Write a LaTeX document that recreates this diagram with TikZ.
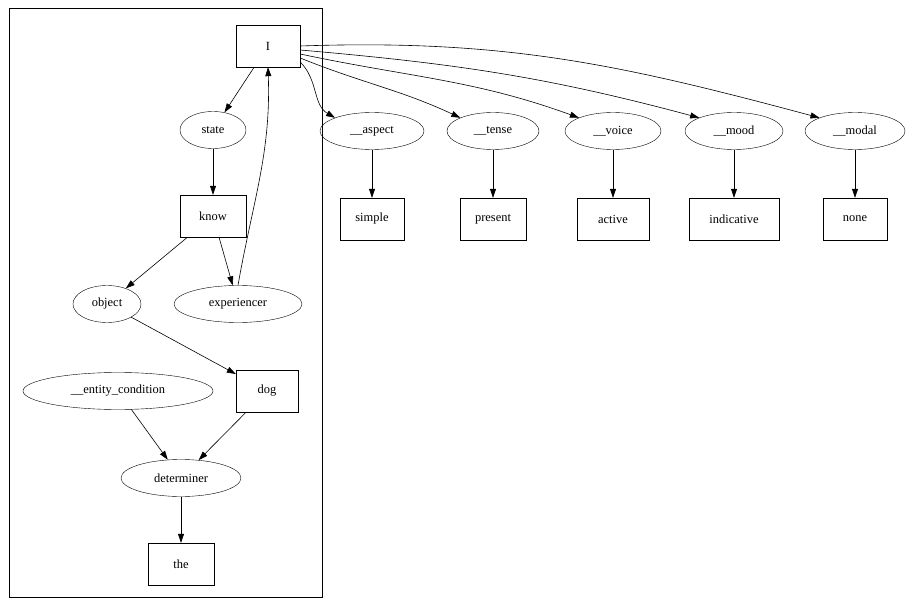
\documentclass[tikz,border=0pt]{standalone}
\usepackage{fontspec}
\setmainfont{Liberation Serif}
\usetikzlibrary{arrows.meta, shapes.geometric, positioning}

\begin{document}
\begin{tikzpicture}[x=1bp, y=-1bp,
  font=\fontsize{12.5}{14}\selectfont,
  box/.style={draw, rectangle, minimum height=42bp, inner sep=2bp},
  oval/.style={draw, ellipse, minimum height=37bp, inner sep=1bp},
  edge/.style={-{Triangle[length=9bp,width=6bp]}, line width=0.6bp}]
\useasboundingbox (0,0) rectangle (913,611);

% Cluster
\draw[line width=0.6bp] (9,8) rectangle (322,597);

% Left graph
\node[box, minimum width=64bp] (I) at (268,46) {I};
\node[oval, minimum width=66bp] (state) at (213,130) {state};
\node[box, minimum width=66bp] (know) at (213,216) {know};
\node[oval, minimum width=68bp] (object) at (107,304) {object};
\node[oval, minimum width=128bp] (experiencer) at (238,304) {experiencer};
\node[box, minimum width=62bp] (dog) at (267,391) {dog};
\node[oval, minimum width=190bp] (entity) at (118,391) {\_\_entity\_condition};
\node[oval, minimum width=120bp] (determiner) at (181,478) {determiner};
\node[box, minimum width=66bp] (the) at (181,564) {the};

\draw[edge] (I) -- (state);
\draw[edge] (state) -- (know);
\draw[edge] (know) -- (object);
\draw[edge] (know) -- (experiencer);
\draw[edge] (experiencer.north) to[out=80, in=-88] (I.south);
\draw[edge] (object) -- (dog);
\draw[edge] (entity) -- (determiner);
\draw[edge] (dog) -- (determiner);
\draw[edge] (determiner) -- (the);

% Top row
\node[oval, minimum width=104bp] (aspect) at (372,131) {\_\_aspect};
\node[oval, minimum width=92bp] (tense) at (493,131) {\_\_tense};
\node[oval, minimum width=96bp] (voice) at (613,131) {\_\_voice};
\node[oval, minimum width=98bp] (mood) at (734,131) {\_\_mood};
\node[oval, minimum width=100bp] (modal) at (855,131) {\_\_modal};

\node[box, minimum width=64bp] (simple) at (372,219) {simple};
\node[box, minimum width=66bp] (present) at (493,219) {present};
\node[box, minimum width=72bp] (active) at (613,219) {active};
\node[box, minimum width=90bp] (indicative) at (734,219) {indicative};
\node[box, minimum width=64bp] (none) at (855,219) {none};

\draw[edge] (I.east) ++(0,16) to[out=-45, in=150] (aspect.north west);
\draw[edge] (I.east) ++(0,12) to[out=-22, in=155] (tense.north west);
\draw[edge] (I.east) ++(0,8) to[out=-12, in=160] (voice.north west);
\draw[edge] (I.east) ++(0,4) to[out=-5, in=165] (mood.north west);
\draw[edge] (I.east) to[out=2, in=165] (modal.north west);

\foreach \a/\b in {aspect/simple, tense/present, voice/active, mood/indicative, modal/none}
  \draw[edge] (\a) -- (\b);
\end{tikzpicture}
\end{document}
